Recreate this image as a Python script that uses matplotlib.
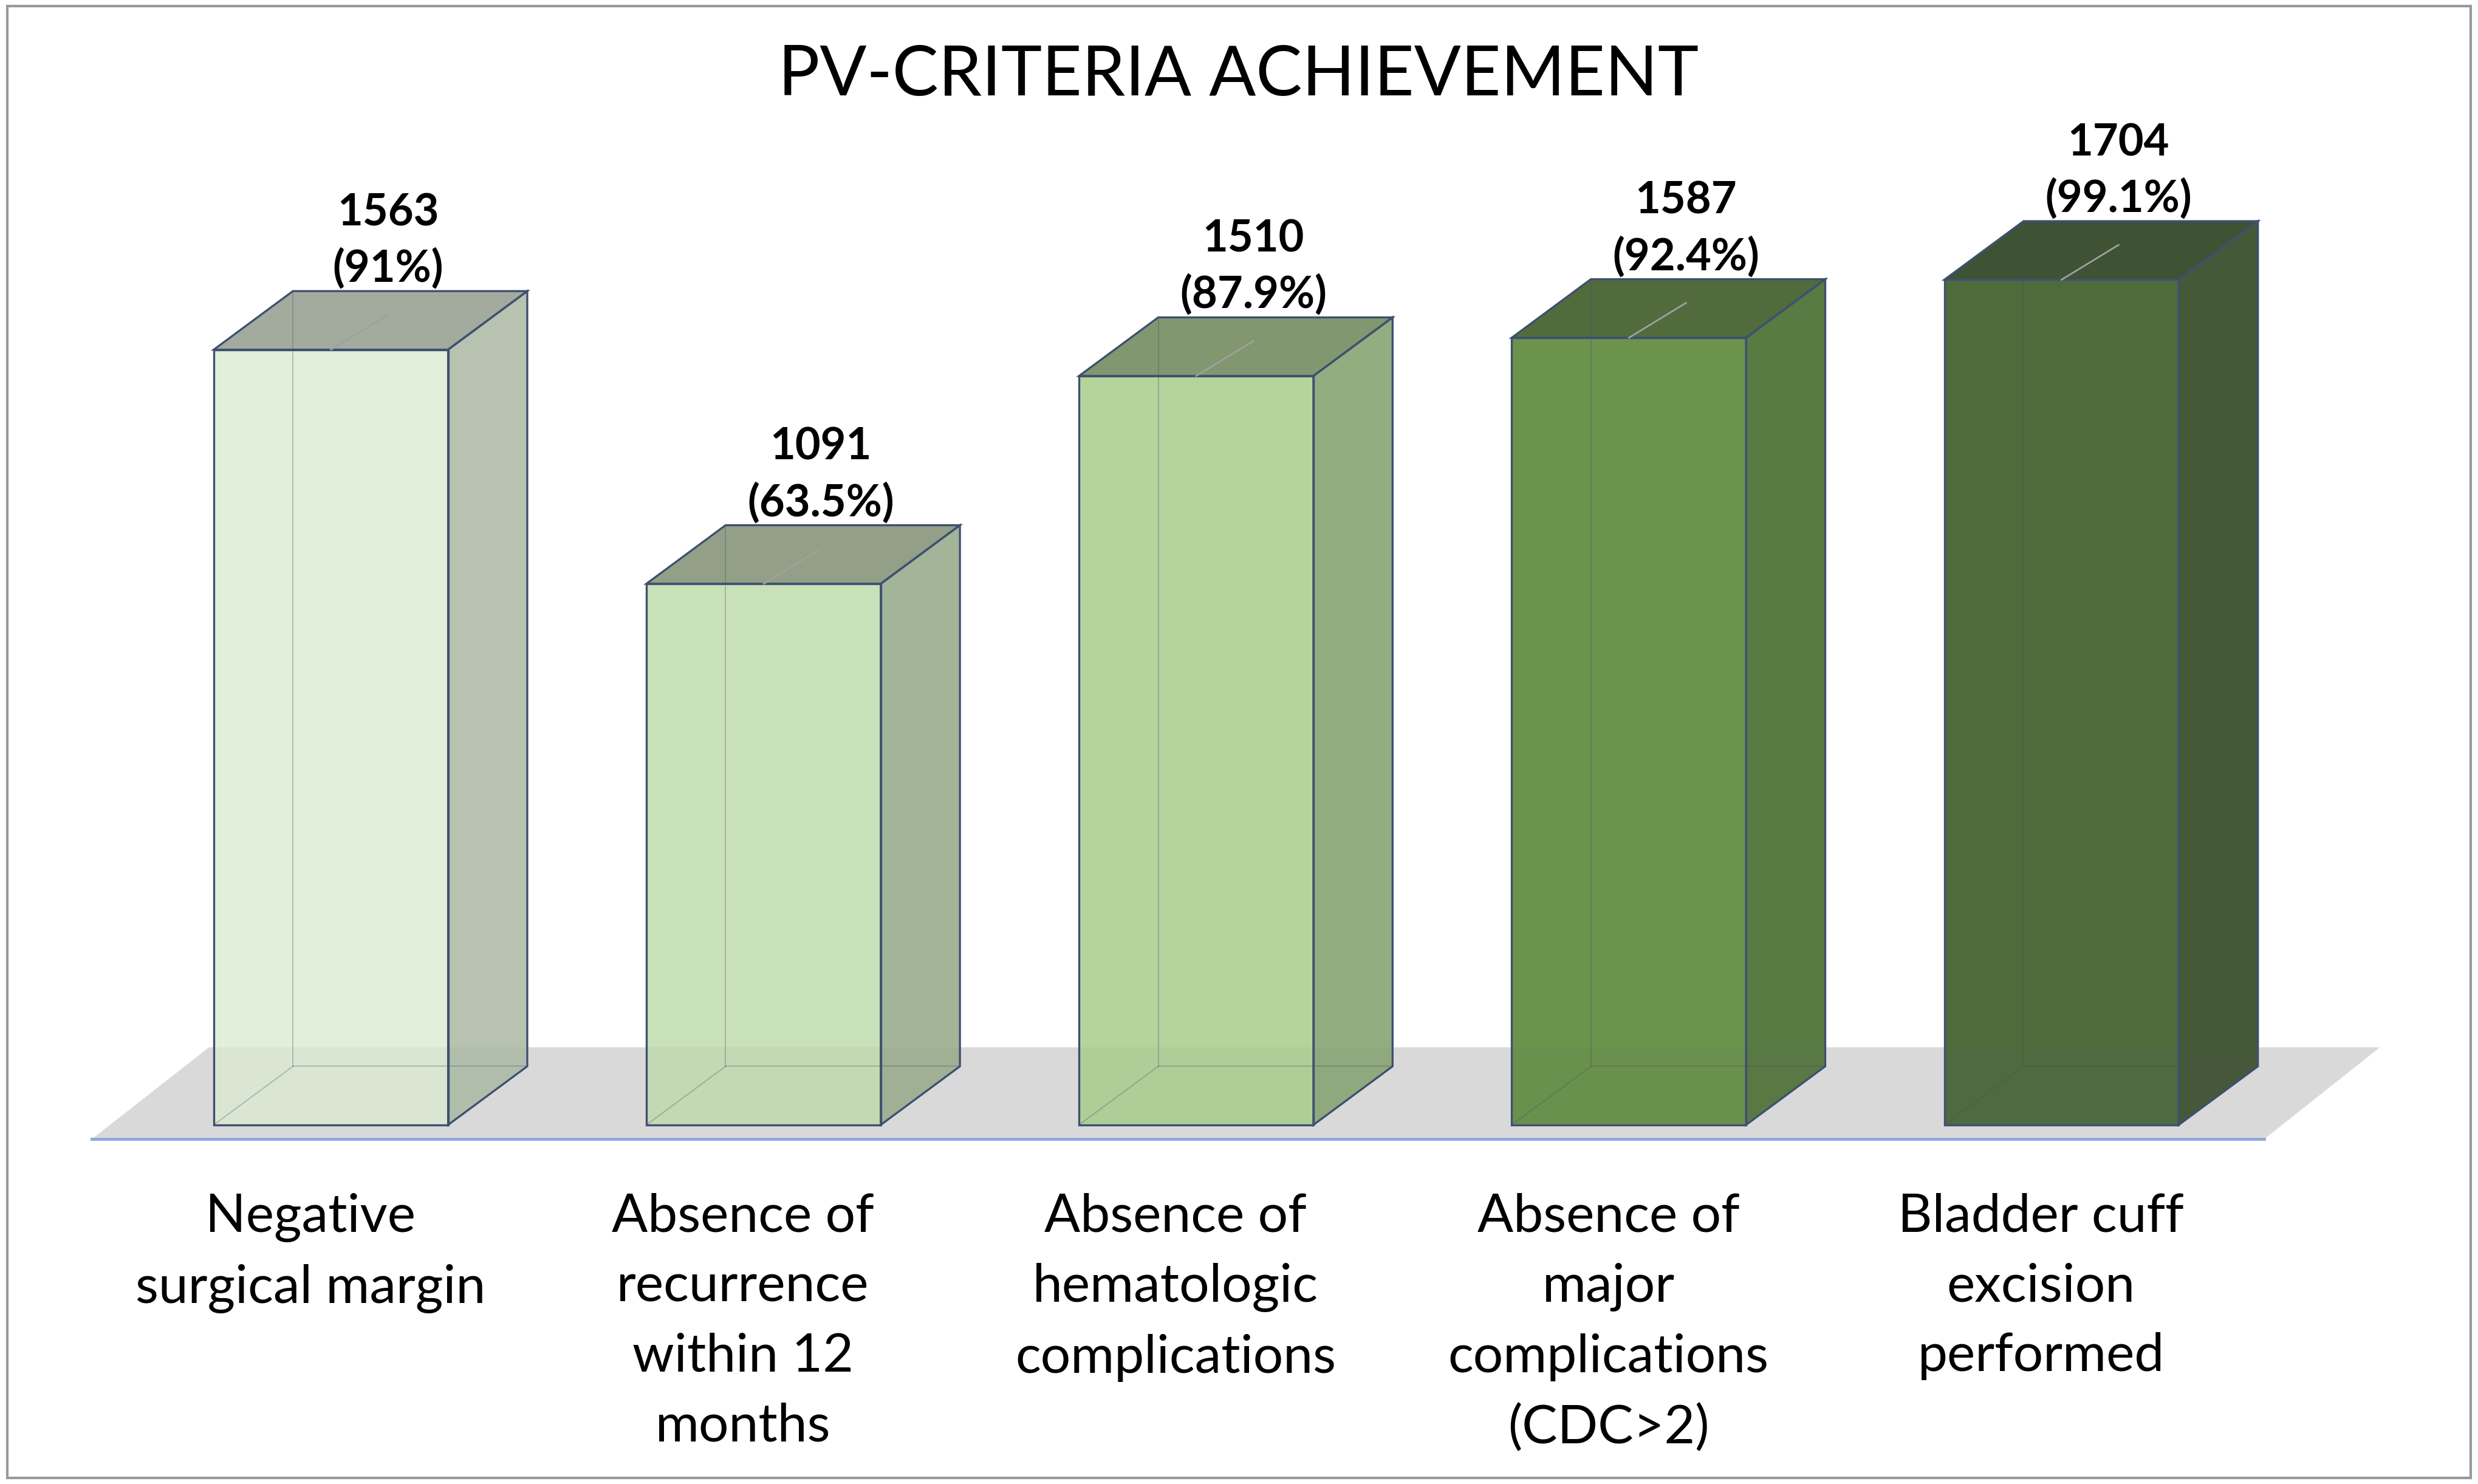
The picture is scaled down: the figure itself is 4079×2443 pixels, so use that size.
import matplotlib.pyplot as plt
from matplotlib.patches import Polygon, Rectangle

# data
categories = ["Negative\nsurgical margin",
              "Absence of\nrecurrence\nwithin 12\nmonths",
              "Absence of\nhematologic\ncomplications",
              "Absence of\nmajor\ncomplications\n(CDC>2)",
              "Bladder cuff\nexcision\nperformed"]
counts = [1563, 1091, 1510, 1587, 1704]
percents = ["91%", "63.5%", "87.9%", "92.4%", "99.1%"]

front_cols = ["#E2EFDA", "#C9E1B9", "#B3D59C", "#6B934C", "#4F6B3C"]
side_cols = ["#B7C3B0", "#A3B598", "#93AD80", "#587A43", "#445938"]
top_cols = ["#A3AB9E", "#939F86", "#81976F", "#516B3D", "#3E5234"]

plt.rcParams['font.family'] = ['Lato', 'DejaVu Sans']

fig = plt.figure(figsize=(20.395, 12.215), dpi=200)
ax = fig.add_axes([0, 0, 1, 1])
ax.axis('off')

# reference layout: 273.25 px per category, 0.3135 px per count, baseline at y=711
px_cat, px_val = 273.25, 0.3135
ax.set_xlim(-209 / px_cat, (1565 - 209) / px_cat)
ax.set_ylim((711 - 938) / px_val, 711 / px_val)

half_w = 74 / px_cat
dx, dy = 50 / px_cat, 37 / px_val
edge = "#3E5070"

# floor
fl = [((58 - 209) / px_cat, -9 / px_val), ((1430 - 209) / px_cat, -9 / px_val),
      ((1503 - 209) / px_cat, 49 / px_val), ((132 - 209) / px_cat, 49 / px_val)]
ax.add_patch(Polygon(fl, closed=True, facecolor="#E2E1E2", edgecolor="none", zorder=1))
ax.add_patch(Polygon(fl, closed=True, facecolor="#606060", alpha=0.06, edgecolor="none", zorder=3.2))
ax.plot([fl[0][0], fl[1][0]], [fl[0][1], fl[1][1]], color="#8FAADC", lw=1.8, zorder=3.3)

for i, (n, p) in enumerate(zip(counts, percents)):
    x0, x1 = i - half_w, i + half_w
    ax.add_patch(Polygon([(x0, 0), (x1, 0), (x1, n), (x0, n)], closed=True,
                         facecolor=front_cols[i], edgecolor="none", zorder=3))
    ax.add_patch(Polygon([(x1, 0), (x1 + dx, dy), (x1 + dx, n + dy), (x1, n)], closed=True,
                         facecolor=side_cols[i], edgecolor="none", zorder=3))
    ax.add_patch(Polygon([(x0, n), (x1, n), (x1 + dx, n + dy), (x0 + dx, n + dy)], closed=True,
                         facecolor=top_cols[i], edgecolor="none", zorder=3))
    # hidden edges seen through the transparent box
    ax.plot([x0 + dx, x0 + dx], [dy, n + dy], color=edge, lw=0.7, alpha=0.3, zorder=3.4)
    ax.plot([x0 + dx, x1 + dx], [dy, dy], color=edge, lw=0.7, alpha=0.3, zorder=3.4)
    ax.plot([x0, x0 + dx], [0, dy], color=edge, lw=0.7, alpha=0.3, zorder=3.4)
    # visible edges
    for pts in ([(x0, 0), (x1, 0), (x1, n), (x0, n)],
                [(x1, 0), (x1 + dx, dy), (x1 + dx, n + dy), (x1, n)],
                [(x0, n), (x1, n), (x1 + dx, n + dy), (x0 + dx, n + dy)]):
        ax.add_patch(Polygon(pts, closed=True, fill=False, edgecolor=edge, lw=1.2, zorder=3.5))
    lx = i + 36 / px_cat
    ax.plot([i, lx], [n, n + 22 / px_val], color="#A0A0A0", lw=1.0, zorder=4)
    ax.text(lx, n + dy + 1 / px_val, f"{n}\n({p})", ha="center", va="bottom",
            fontsize=26, fontweight="bold", linespacing=1.42, zorder=5)
    ax.text(i - 13 / px_cat, (711 - 754) / px_val, categories[i], ha="center", va="top",
            fontsize=31.5, linespacing=1.56, zorder=5)

fig.text(0.4997, 0.949, "PV-CRITERIA ACHIEVEMENT", ha="center", va="center", fontsize=41)
fig.add_artist(Rectangle((0.003, 0.004), 0.994, 0.992, transform=fig.transFigure,
                         fill=False, edgecolor="#999999", lw=1.5))

fig.savefig("out.png", dpi=200)
